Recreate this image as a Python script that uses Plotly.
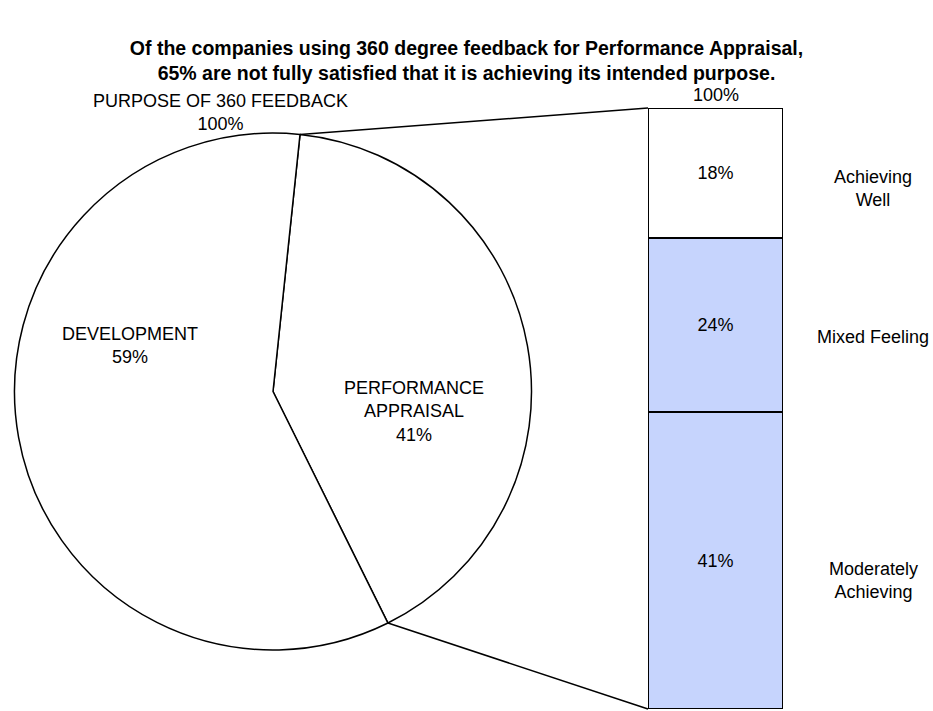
import math
import plotly.graph_objects as go

# ---- data ----
pie_labels = ["PERFORMANCE APPRAISAL", "DEVELOPMENT"]
pie_values = [41, 59]
bar_labels = ["Moderately<br>Achieving", "Mixed Feeling", "Achieving<br>Well"]
bar_values = [41, 24, 18]
bar_colors = ["#C6D4FD", "#C6D4FD", "#FFFFFF"]
title_text = ("<b>Of the companies using 360 degree feedback for Performance Appraisal,<br>"
              "65% are not fully satisfied that it is achieving its intended purpose.</b>")

W, H = 933, 711
FONT = "Liberation Sans, Arial, sans-serif"
FS = 18

pie_dom_x = [0.0, 546 / W]
pie_dom_y = [1 - 650 / H, 1 - 133 / H]
rotation = 6

bar_dom_x = [648 / W, 783 / W]
bar_dom_y = [1 - 709 / H, 1 - 108 / H]
total = sum(bar_values)
side_label_y = [580, 337, 188]  # vertical placement (px from top) of the side labels

fig = go.Figure()
fig.add_trace(go.Pie(
    labels=pie_labels, values=pie_values, sort=False, direction="clockwise",
    rotation=rotation, textinfo="none", showlegend=False,
    marker=dict(colors=["white", "white"], line=dict(color="black", width=1.5)),
    domain=dict(x=pie_dom_x, y=pie_dom_y),
))

for lab, v, c, ly in zip(bar_labels, bar_values, bar_colors, side_label_y):
    fig.add_trace(go.Bar(
        x=[0], y=[v], width=[1], marker=dict(color=c, line=dict(color="black", width=2)),
        text=[f"{v}%"], textposition="inside", insidetextanchor="middle",
        textfont=dict(family=FONT, size=FS, color="black"), showlegend=False,
        name=lab.replace("<br>", " "),
    ))
    fig.add_annotation(x=873 / W, xref="paper", xanchor="center", y=1 - ly / H, yref="paper",
                       yanchor="middle", text=lab, showarrow=False,
                       font=dict(family=FONT, size=FS, color="black"))

# pie geometry (pixels) for connector lines
pw = (pie_dom_x[1] - pie_dom_x[0]) * W
ph = (pie_dom_y[1] - pie_dom_y[0]) * H
r = min(pw, ph) / 2
cx = (pie_dom_x[0] + pie_dom_x[1]) / 2 * W
cy = (1 - (pie_dom_y[0] + pie_dom_y[1]) / 2) * H
a0 = math.radians(rotation)
a1 = math.radians(rotation + pie_values[0] / sum(pie_values) * 360)
p0 = (cx + r * math.sin(a0), cy - r * math.cos(a0))
p1 = (cx + r * math.sin(a1), cy - r * math.cos(a1))
for (px, py), by in [(p0, bar_dom_y[1]), (p1, bar_dom_y[0])]:
    fig.add_shape(type="line", xref="paper", yref="paper",
                  x0=px / W, y0=1 - py / H, x1=bar_dom_x[0], y1=by,
                  line=dict(color="black", width=1.5))

txt = dict(showarrow=False, xref="paper", yref="paper", xanchor="center", yanchor="middle",
           font=dict(family=FONT, size=FS, color="black"))
fig.add_annotation(x=220 / W, y=1 - 112 / H, text="PURPOSE OF 360 FEEDBACK<br>100%", **txt)
fig.add_annotation(x=130 / W, y=1 - 345 / H, text="DEVELOPMENT<br>59%", **txt)
fig.add_annotation(x=414 / W, y=1 - 411 / H, text="PERFORMANCE<br>APPRAISAL<br>41%", **txt)
fig.add_annotation(x=0, xref="x", y=total, yref="y", yanchor="bottom", yshift=1,
                   text="100%", showarrow=False,
                   font=dict(family=FONT, size=FS, color="black"))

fig.update_layout(
    width=W, height=H, margin=dict(l=0, r=0, t=0, b=0),
    paper_bgcolor="white", plot_bgcolor="white",
    barmode="stack", bargap=0,
    title=dict(text=title_text, x=0.5, xanchor="center", y=1 - 55 / H, yanchor="middle",
               font=dict(family=FONT, size=19.5, color="black")),
    xaxis=dict(domain=bar_dom_x, range=[-0.5, 0.5], visible=False, fixedrange=True),
    yaxis=dict(domain=bar_dom_y, range=[0, total], visible=False, fixedrange=True),
    uniformtext=dict(minsize=FS, mode="show"),
)
fig.write_html("out.html")
